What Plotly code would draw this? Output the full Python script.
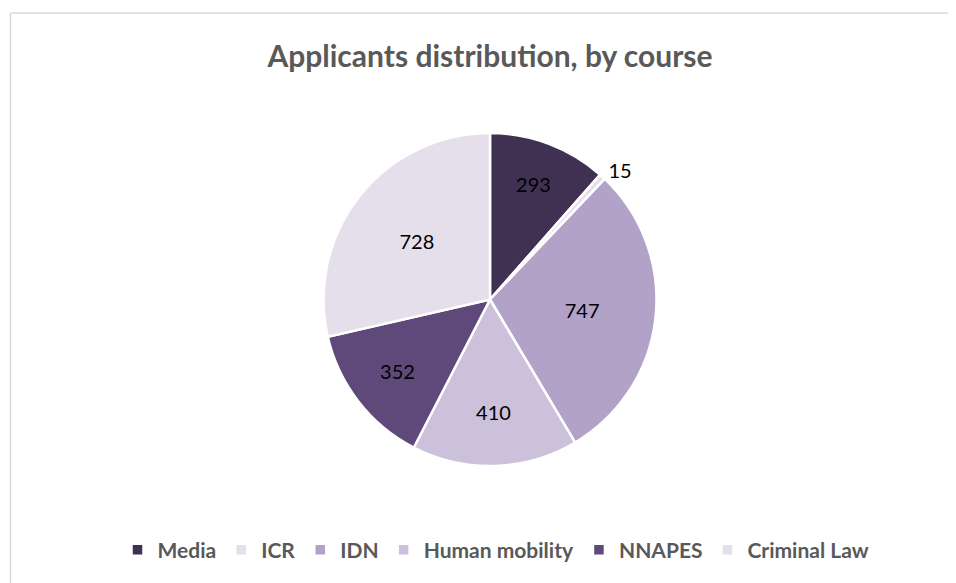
import plotly.graph_objects as go

courses = ["Media", "ICR", "IDN", "Human mobility", "NNAPES", "Criminal Law"]
applicants = [293, 15, 747, 410, 352, 728]
colors = ["#403152", "#E5DFEC", "#B2A2C7", "#CCC1DA", "#5F497A", "#E5DFEC"]
positions = ["inside", "outside", "inside", "inside", "inside", "inside"]

# page body has an 8px default margin; figure is sized to fit the window
W, H = 948, 575
FONT = "Lato, Carlito, sans-serif"

fig = go.Figure(go.Pie(
    labels=courses,
    values=applicants,
    sort=False,
    direction="clockwise",
    rotation=0,
    marker=dict(colors=colors, line=dict(color="white", width=2.5)),
    textinfo="value",
    textposition=positions,
    insidetextorientation="horizontal",
    textfont=dict(family=FONT, size=20, color="black"),
    outsidetextfont=dict(family=FONT, size=20, color="black"),
    hoverinfo="label+value",
    domain=dict(x=[(482 - 260) / W, (482 + 260) / W], y=[(H - 458) / H, (H - 125) / H]),
    showlegend=True,
))

fig.update_layout(
    width=W, height=H,
    margin=dict(l=0, r=0, t=0, b=0),
    paper_bgcolor="white",
    plot_bgcolor="white",
    title=dict(
        text="<b>Applicants distribution, by course</b>",
        x=482 / W, xanchor="center",
        y=1 - 48 / H, yanchor="middle",
        font=dict(family=FONT, size=30, color="#595959"),
    ),
    legend=dict(
        orientation="h",
        x=488 / W, xanchor="center",
        y=1 - 542 / H, yanchor="middle",
        font=dict(family=FONT, size=21, color="#595959", weight="bold"),
        itemwidth=30,
        traceorder="normal",
    ),
    shapes=[
        dict(type="line", xref="paper", yref="paper",
             x0=2.5 / W, x1=2.5 / W, y0=0, y1=1 - 5 / H,
             line=dict(color="#D9D9D9", width=1.5)),
        dict(type="line", xref="paper", yref="paper",
             x0=2.5 / W, x1=1, y0=1 - 5 / H, y1=1 - 5 / H,
             line=dict(color="#D9D9D9", width=1.5)),
    ],
)

fig.write_html("out.html")
